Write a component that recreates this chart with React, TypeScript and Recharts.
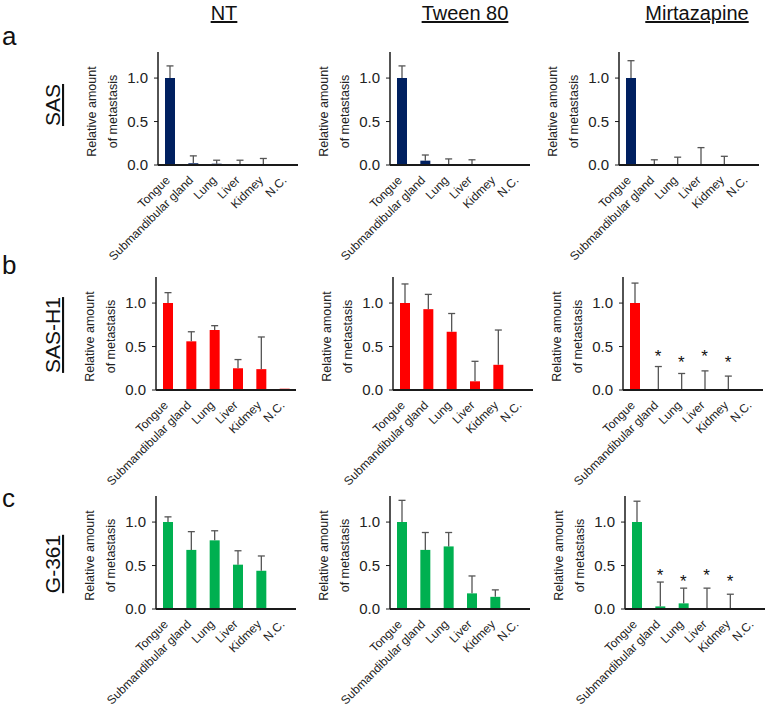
import React from 'react';
import { ComposedChart, Bar, Scatter, XAxis, YAxis, Label } from 'recharts';

const organs = ['Tongue', 'Submandibular gland', 'Lung', 'Liver', 'Kidmey', 'N.C.'];
const treatments = ['NT', 'Tween 80', 'Mirtazapine'];
const cellLines = ['SAS', 'SAS-H1', 'G-361'];
const panelLetters = ['a', 'b', 'c'];
const yTicks = [0, 0.5, 1.0];

// SAS
const sasNT = [1.0, 0.02, 0.015, 0, 0, 0];
const sasNTErr = [0.14, 0.085, 0.04, 0.055, 0.075, 0];
const sasTween = [1.0, 0.05, 0, 0, 0.005, 0];
const sasTweenErr = [0.14, 0.065, 0.07, 0.06, 0, 0];
const sasMirt = [1.0, 0, 0, 0, 0, 0];
const sasMirtErr = [0.2, 0.06, 0.09, 0.2, 0.1, 0];

// SAS-H1
const h1NT = [1.0, 0.56, 0.69, 0.25, 0.24, 0.015];
const h1NTErr = [0.12, 0.11, 0.05, 0.1, 0.37, 0];
const h1Tween = [1.0, 0.93, 0.67, 0.1, 0.29, 0];
const h1TweenErr = [0.22, 0.17, 0.21, 0.23, 0.4, 0];
const h1Mirt = [1.0, 0, 0.005, 0, 0, 0];
const h1MirtErr = [0.23, 0.27, 0.185, 0.22, 0.16, 0];

// G-361
const gNT = [1.0, 0.68, 0.79, 0.51, 0.44, 0];
const gNTErr = [0.06, 0.21, 0.11, 0.16, 0.17, 0];
const gTween = [1.0, 0.68, 0.72, 0.18, 0.14, 0];
const gTweenErr = [0.25, 0.2, 0.16, 0.2, 0.08, 0];
const gMirt = [1.0, 0.03, 0.065, 0, 0, 0];
const gMirtErr = [0.24, 0.28, 0.175, 0.24, 0.17, 0];

// asterisk heights (significance marks)
const starLevels = [null, 0.43, 0.36, 0.43, 0.36, null];

const rowColors = ['#002060', '#ff0000', '#00b050'];
const rowValues = [
  [[sasNT, sasNTErr], [sasTween, sasTweenErr], [sasMirt, sasMirtErr]],
  [[h1NT, h1NTErr], [h1Tween, h1TweenErr], [h1Mirt, h1MirtErr]],
  [[gNT, gNTErr], [gTween, gTweenErr], [gMirt, gMirtErr]],
];
const rowStars = [
  [null, null, null],
  [null, null, starLevels],
  [null, null, starLevels],
];

// layout
const FONT = '"Liberation Sans", Arial, sans-serif';
const zeroY = [165, 390, 609];
const plotLefts = [
  [158, 390, 619],
  [156, 393, 623],
  [156, 390, 625],
];
const PLOT_W = 140;
const PLOT_H = 113;
const Y_AXIS_W = 90;
const TOP_M = 8;
const X_AXIS_H = 125;

const build = (vals: number[], errs: number[], stars: (number | null)[] | null) =>
  organs.map((name, i) => ({ name, value: vals[i], err: errs[i], star: stars ? stars[i] : null }));

const ErrShape = (props: any) => {
  const { x, y, width, height } = props;
  if (!height || height <= 0.5) return null;
  const cx = x + width / 2;
  return (
    <g>
      <line x1={cx} x2={cx} y1={y + height} y2={y} stroke="#555" strokeWidth={1.3} />
      <line x1={cx - 3.5} x2={cx + 3.5} y1={y} y2={y} stroke="#555" strokeWidth={1.3} />
    </g>
  );
};

const StarShape = (props: any) => {
  const { cx, cy, payload } = props;
  if (payload == null || payload.star == null || !isFinite(cy)) return null;
  return (
    <text x={cx} y={cy} textAnchor="middle" dominantBaseline="central" fontSize={17} fontFamily={FONT} fill="#111" dy={4}>
      *
    </text>
  );
};

const XTick = (props: any) => {
  const { x, y, payload } = props;
  const ax = x + 1;
  const ay = y + 8;
  return (
    <text x={ax} y={ay} transform={`rotate(-45 ${ax} ${ay})`} textAnchor="end" fontSize={12} fontFamily={FONT} fill="#222">
      {payload.value}
    </text>
  );
};

const YLabel = (props: any) => {
  const { viewBox } = props;
  if (!viewBox) return null;
  const right = viewBox.x + viewBox.width;
  const cy = viewBox.y + viewBox.height / 2 + 3;
  return (
    <g fontFamily={FONT} fontSize={12.5} fill="#222">
      <text transform={`translate(${right - 66},${cy}) rotate(-90)`} textAnchor="middle" dominantBaseline="central">
        Relative amount
      </text>
      <text transform={`translate(${right - 45},${cy}) rotate(-90)`} textAnchor="middle" dominantBaseline="central">
        of metastasis
      </text>
    </g>
  );
};

const Panel = ({ row, col }: { row: number; col: number }) => {
  const [vals, errs] = rowValues[row][col];
  const stars = rowStars[row][col];
  const data = build(vals, errs, stars);
  const left = plotLefts[row][col] - Y_AXIS_W;
  const top = zeroY[row] - PLOT_H - TOP_M;
  const h = Math.min(TOP_M + PLOT_H + X_AXIS_H, 710 - top);
  return (
    <div style={{ position: 'absolute', left, top }}>
      <ComposedChart
        width={Y_AXIS_W + PLOT_W + 2}
        height={h}
        data={data}
        margin={{ top: TOP_M, right: 2, left: 0, bottom: 0 }}
        barCategoryGap={0}
      >
        <XAxis
          dataKey="name"
          height={h - TOP_M - PLOT_H}
          interval={0}
          tickLine={false}
          axisLine={{ stroke: '#1a1a1a', strokeWidth: 2 }}
          tick={<XTick />}
        />
        <YAxis
          width={Y_AXIS_W}
          domain={[0, 1.3]}
          ticks={yTicks}
          tickFormatter={(v: number) => v.toFixed(1)}
          tick={{ fontSize: 15, fill: '#222', fontFamily: FONT }}
          tickSize={4}
          tickMargin={6}
          tickLine={{ stroke: '#1a1a1a' }}
          axisLine={{ stroke: '#1a1a1a', strokeWidth: 1.5 }}
          allowDataOverflow
        >
          <Label content={YLabel} />
        </YAxis>
        <Bar dataKey="value" stackId="s" fill={rowColors[row]} barSize={10} isAnimationActive={false} />
        <Bar dataKey="err" stackId="s" barSize={10} shape={<ErrShape />} isAnimationActive={false} />
        {stars && <Scatter dataKey="star" shape={<StarShape />} isAnimationActive={false} />}
      </ComposedChart>
    </div>
  );
};

const titleX = [224, 465, 697];
const rowLabelY = [105, 335, 564];
const letterY = [45, 274, 507];

export default function App() {
  return (
    <div style={{ position: 'absolute', left: 0, top: 0, width: 768, height: 710, background: '#fff', overflow: 'hidden' }}>
      <svg width={768} height={710} style={{ position: 'absolute', left: 0, top: 0 }} fontFamily={FONT}>
        {treatments.map((t, i) => (
          <text key={t} x={titleX[i]} y={20} textAnchor="middle" fontSize={20} fill="#111" style={{ textDecoration: 'underline' }}>
            {t}
          </text>
        ))}
        {cellLines.map((c, i) => (
          <text
            key={c}
            transform={`translate(60,${rowLabelY[i]}) rotate(-90)`}
            textAnchor="middle"
            fontSize={21}
            fill="#111"
            style={{ textDecoration: 'underline' }}
          >
            {c}
          </text>
        ))}
        {panelLetters.map((l, i) => (
          <text key={l} x={2} y={letterY[i]} fontSize={26} fill="#111">
            {l}
          </text>
        ))}
      </svg>
      {[0, 1, 2].map((r) => [0, 1, 2].map((c) => <Panel key={`${r}-${c}`} row={r} col={c} />))}
    </div>
  );
}
